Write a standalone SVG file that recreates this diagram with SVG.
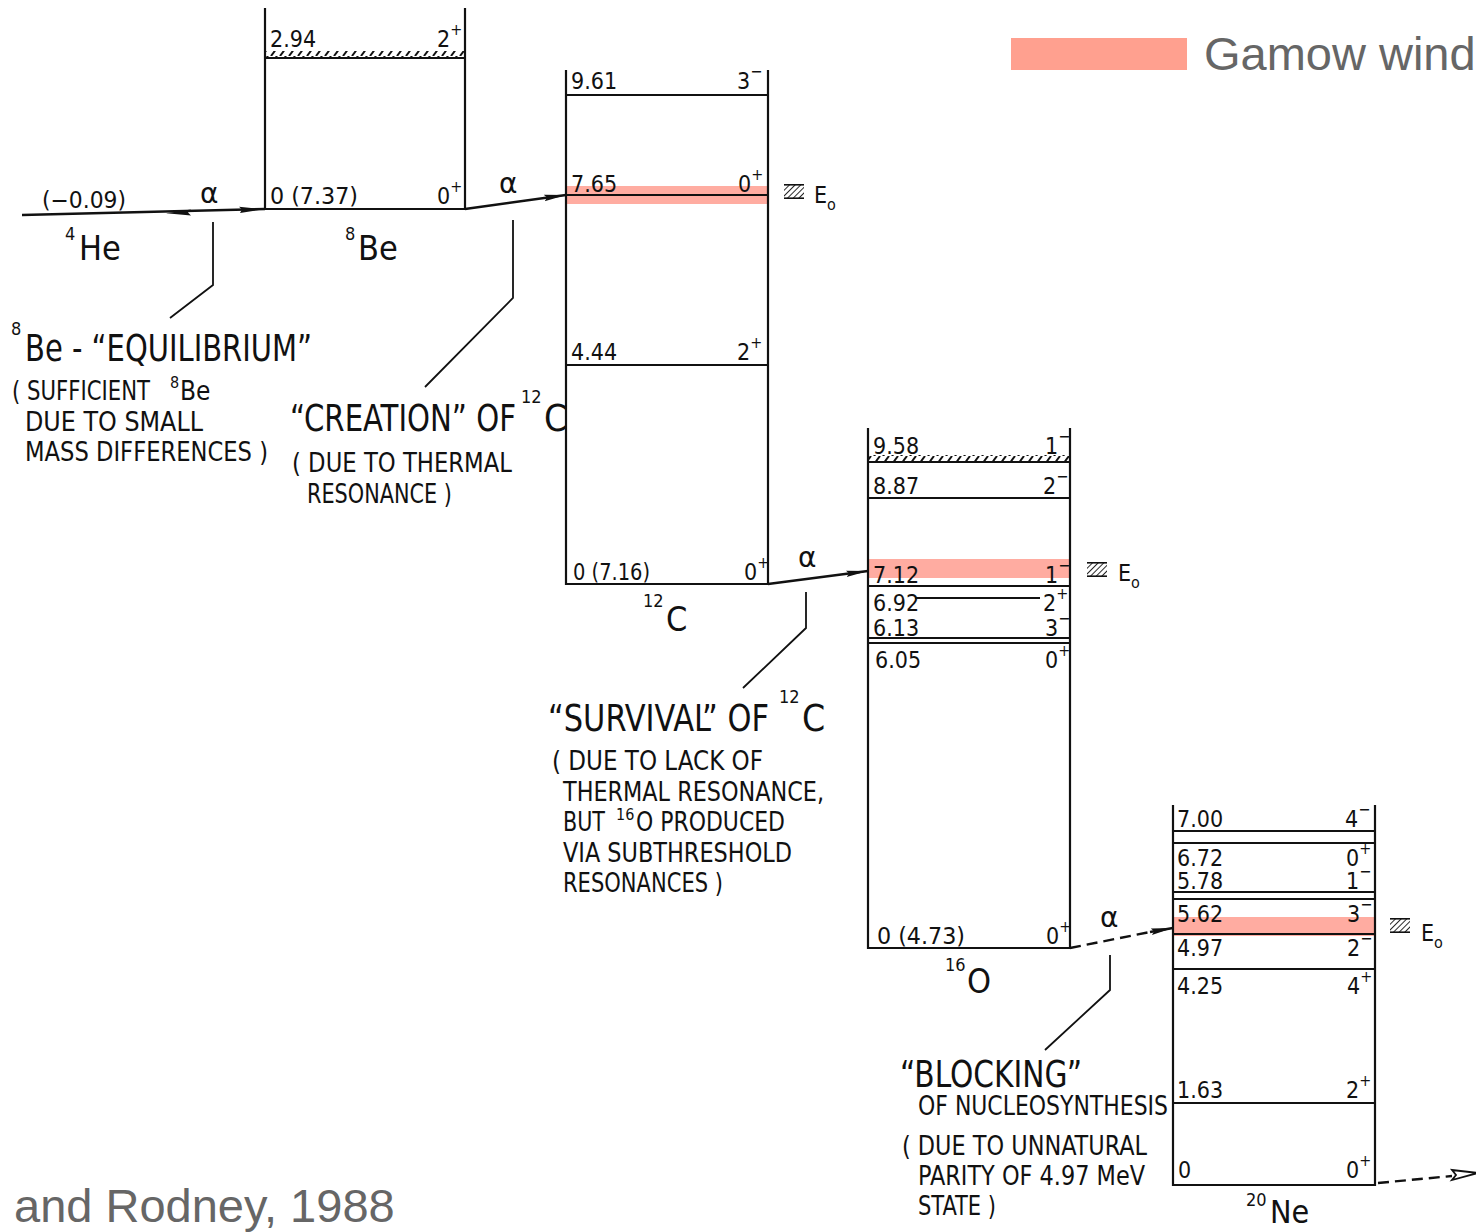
<svg xmlns="http://www.w3.org/2000/svg" width="1476" height="1232" viewBox="0 0 1476 1232">
<style>
.bg{fill:#ffffff}
.lv{stroke:#111;stroke-width:2.2;fill:none}
.t{font-family:"DejaVu Sans Condensed","DejaVu Sans",sans-serif;font-stretch:condensed;fill:#111}
.lab{font-size:23px}
.sup{font-size:16px}
.big{font-size:37px}
.mid{font-size:26px}
.iso{font-size:34px}
.isup{font-size:18px}
.alpha{font-family:"DejaVu Sans",sans-serif;font-size:28px;fill:#111}
.band{fill:#ff7f6e;opacity:0.65}
.gray{font-family:"Liberation Sans",Arial,sans-serif;fill:#666666}
.lead{stroke:#111;stroke-width:1.8;fill:none}
.arr{stroke:#111;stroke-width:2.4;fill:none}
.dash{stroke:#111;stroke-width:2.4;fill:none;stroke-dasharray:11 6}
</style>
<defs>
<marker id="ah" markerUnits="userSpaceOnUse" markerWidth="24" markerHeight="10" refX="22" refY="5" orient="auto">
<path d="M0,1.8 L22,5 L0,8.2 L3,5 z" fill="#111"/>
</marker>
<pattern id="hatch" width="9" height="8" patternUnits="userSpaceOnUse">
<path d="M1,8 L7,0" stroke="#111" stroke-width="2"/>
</pattern>
<pattern id="diag" width="4" height="4" patternUnits="userSpaceOnUse" patternTransform="rotate(45)">
<line x1="0" y1="0" x2="0" y2="4" stroke="#111" stroke-width="1.8"/>
</pattern>
<g id="e0sym">
<rect x="0" y="0" width="20" height="15" fill="url(#diag)"/>
<line x1="0" y1="0.8" x2="20" y2="0.8" stroke="#111" stroke-width="1.6"/>
<line x1="0" y1="14.2" x2="20" y2="14.2" stroke="#111" stroke-width="1.6"/>
</g>
</defs>
<rect class="bg" x="0" y="0" width="1476" height="1232"/>

<!-- legend -->
<g id="legend">
<rect x="1011" y="38" width="176" height="32" fill="#ffa08f"/>
<text class="gray" x="1204" y="70" font-size="47">Gamow wind</text>
</g>
<g id="citation">
<text class="gray" x="14" y="1222" font-size="47">and Rodney, 1988</text>
</g>

<!-- 4He -->
<g id="node-he4">
<text class="t lab" x="42" y="208" textLength="84" lengthAdjust="spacingAndGlyphs">(−0.09)</text>
<text class="t iso" x="65" y="260"><tspan class="isup" dy="-20">4</tspan><tspan x="79" dy="20">He</tspan></text>
</g>

<!-- 8Be -->
<g id="node-be8">
<line class="lv" x1="265" y1="8" x2="265" y2="210"/>
<line class="lv" x1="465" y1="8" x2="465" y2="210"/>
<line class="lv" x1="265" y1="58" x2="465" y2="58"/>
<rect x="265" y="51" width="200" height="7" fill="url(#hatch)"/>
<line class="lv" x1="265" y1="209" x2="465" y2="209"/>
<text class="t lab" x="270" y="47">2.94</text>
<text class="t lab" x="437" y="47">2<tspan class="sup" dy="-12">+</tspan></text>
<text class="t lab" x="270" y="204" textLength="88" lengthAdjust="spacingAndGlyphs">0 (7.37)</text>
<text class="t lab" x="437" y="204">0<tspan class="sup" dy="-12">+</tspan></text>
<text class="t iso" x="345" y="260"><tspan class="isup" dy="-20">8</tspan><tspan x="358" dy="20">Be</tspan></text>
</g>

<!-- 12C -->
<g id="node-c12">
<rect class="band" x="566" y="186" width="202" height="18"/>
<line class="lv" x1="566" y1="70" x2="566" y2="585"/>
<line class="lv" x1="768" y1="70" x2="768" y2="585"/>
<line class="lv" x1="566" y1="95" x2="768" y2="95"/>
<line class="lv" x1="566" y1="195" x2="768" y2="195"/>
<line class="lv" x1="566" y1="365" x2="768" y2="365"/>
<line class="lv" x1="566" y1="584" x2="768" y2="584"/>
<text class="t lab" x="571" y="89">9.61</text>
<text class="t lab" x="737" y="89">3<tspan class="sup" dy="-12">−</tspan></text>
<text class="t lab" x="571" y="192">7.65</text>
<text class="t lab" x="738" y="192">0<tspan class="sup" dy="-12">+</tspan></text>
<text class="t lab" x="571" y="360">4.44</text>
<text class="t lab" x="737" y="360">2<tspan class="sup" dy="-12">+</tspan></text>
<text class="t lab" x="573" y="580" textLength="77" lengthAdjust="spacingAndGlyphs">0 (7.16)</text>
<text class="t lab" x="744" y="580">0<tspan class="sup" dy="-12">+</tspan></text>
<text class="t iso" x="643" y="631"><tspan class="isup" dy="-24">12</tspan><tspan x="666" dy="24">C</tspan></text>
<use href="#e0sym" x="784" y="184"/>
<text class="t lab" x="814" y="203">E<tspan class="sup" dy="7">o</tspan></text>
</g>

<!-- 16O -->
<g id="node-o16">
<rect class="band" x="868" y="559" width="202" height="19"/>
<line class="lv" x1="868" y1="428" x2="868" y2="949"/>
<line class="lv" x1="1070" y1="428" x2="1070" y2="949"/>
<line class="lv" x1="868" y1="462" x2="1070" y2="462"/>
<rect x="868" y="455" width="202" height="7" fill="url(#hatch)"/>
<line class="lv" x1="868" y1="498" x2="1070" y2="498"/>
<line class="lv" x1="868" y1="586" x2="1070" y2="586"/>
<line class="lv" x1="915" y1="598" x2="1040" y2="598"/>
<line class="lv" x1="868" y1="638" x2="1070" y2="638"/>
<line class="lv" x1="868" y1="643" x2="1070" y2="643"/>
<line class="lv" x1="868" y1="948" x2="1070" y2="948"/>
<text class="t lab" x="873" y="454">9.58</text>
<text class="t lab" x="1045" y="454">1<tspan class="sup" dy="-12">−</tspan></text>
<text class="t lab" x="873" y="494">8.87</text>
<text class="t lab" x="1043" y="494">2<tspan class="sup" dy="-12">−</tspan></text>
<text class="t lab" x="873" y="583">7.12</text>
<text class="t lab" x="1045" y="583">1<tspan class="sup" dy="-12">−</tspan></text>
<text class="t lab" x="873" y="611">6.92</text>
<text class="t lab" x="1043" y="611">2<tspan class="sup" dy="-12">+</tspan></text>
<text class="t lab" x="873" y="636">6.13</text>
<text class="t lab" x="1045" y="636">3<tspan class="sup" dy="-12">−</tspan></text>
<text class="t lab" x="875" y="668">6.05</text>
<text class="t lab" x="1045" y="668">0<tspan class="sup" dy="-12">+</tspan></text>
<text class="t lab" x="877" y="944" textLength="88" lengthAdjust="spacingAndGlyphs">0 (4.73)</text>
<text class="t lab" x="1046" y="944">0<tspan class="sup" dy="-12">+</tspan></text>
<text class="t iso" x="945" y="993"><tspan class="isup" dy="-22">16</tspan><tspan x="967" dy="22">O</tspan></text>
<use href="#e0sym" x="1087" y="562"/>
<text class="t lab" x="1118" y="581">E<tspan class="sup" dy="7">o</tspan></text>
</g>

<!-- 20Ne -->
<g id="node-ne20">
<rect class="band" x="1173" y="917" width="202" height="19"/>
<line class="lv" x1="1173" y1="805" x2="1173" y2="1186"/>
<line class="lv" x1="1375" y1="805" x2="1375" y2="1186"/>
<line class="lv" x1="1173" y1="831" x2="1375" y2="831"/>
<line class="lv" x1="1173" y1="843" x2="1375" y2="843"/>
<line class="lv" x1="1173" y1="892" x2="1375" y2="892"/>
<line class="lv" x1="1173" y1="899" x2="1375" y2="899"/>
<line class="lv" x1="1173" y1="934" x2="1375" y2="934"/>
<line class="lv" x1="1173" y1="969" x2="1375" y2="969"/>
<line class="lv" x1="1173" y1="1103" x2="1375" y2="1103"/>
<line class="lv" x1="1173" y1="1185" x2="1375" y2="1185"/>
<text class="t lab" x="1177" y="827">7.00</text>
<text class="t lab" x="1345" y="827">4<tspan class="sup" dy="-12">−</tspan></text>
<text class="t lab" x="1177" y="866">6.72</text>
<text class="t lab" x="1346" y="866">0<tspan class="sup" dy="-12">+</tspan></text>
<text class="t lab" x="1177" y="889">5.78</text>
<text class="t lab" x="1346" y="889">1<tspan class="sup" dy="-12">−</tspan></text>
<text class="t lab" x="1177" y="922">5.62</text>
<text class="t lab" x="1347" y="922">3<tspan class="sup" dy="-12">−</tspan></text>
<text class="t lab" x="1177" y="956">4.97</text>
<text class="t lab" x="1347" y="956">2<tspan class="sup" dy="-12">−</tspan></text>
<text class="t lab" x="1177" y="994">4.25</text>
<text class="t lab" x="1347" y="994">4<tspan class="sup" dy="-12">+</tspan></text>
<text class="t lab" x="1177" y="1098">1.63</text>
<text class="t lab" x="1346" y="1098">2<tspan class="sup" dy="-12">+</tspan></text>
<text class="t lab" x="1178" y="1178">0</text>
<text class="t lab" x="1346" y="1178">0<tspan class="sup" dy="-12">+</tspan></text>
<text class="t" x="1246" y="1223" font-size="32"><tspan class="isup" dy="-17">20</tspan><tspan x="1270" dy="17">Ne</tspan></text>
<use href="#e0sym" x="1390" y="918"/>
<text class="t lab" x="1421" y="941">E<tspan class="sup" dy="7">o</tspan></text>
</g>

<!-- annotations -->
<g id="note-equilibrium">
<text class="t big" x="11" y="361"><tspan class="isup" dy="-26">8</tspan><tspan x="25" dy="26" textLength="287" lengthAdjust="spacingAndGlyphs">Be - “EQUILIBRIUM”</tspan></text>
<text class="t mid" x="12" y="400"><tspan textLength="138" lengthAdjust="spacingAndGlyphs">( SUFFICIENT</tspan><tspan class="sup" x="170" dy="-12">8</tspan><tspan x="180" dy="12">Be</tspan></text>
<text class="t mid" x="25" y="431" textLength="178" lengthAdjust="spacingAndGlyphs">DUE  TO  SMALL</text>
<text class="t mid" x="25" y="461" textLength="243" lengthAdjust="spacingAndGlyphs">MASS  DIFFERENCES )</text>
</g>
<g id="note-creation">
<text class="t big" x="290" y="431"><tspan textLength="226" lengthAdjust="spacingAndGlyphs">“CREATION” OF</tspan><tspan class="isup" x="521" dy="-28">12</tspan><tspan x="544" dy="28">C</tspan></text>
<text class="t mid" x="292" y="472" textLength="220" lengthAdjust="spacingAndGlyphs">( DUE  TO  THERMAL</text>
<text class="t mid" x="307" y="503" textLength="145" lengthAdjust="spacingAndGlyphs">RESONANCE )</text>
</g>
<g id="note-survival">
<text class="t big" x="548" y="731"><tspan textLength="221" lengthAdjust="spacingAndGlyphs">“SURVIVAL” OF</tspan><tspan class="isup" x="779" dy="-28">12</tspan><tspan x="802" dy="28">C</tspan></text>
<text class="t mid" x="552" y="770" textLength="211" lengthAdjust="spacingAndGlyphs">( DUE  TO LACK  OF</text>
<text class="t mid" x="563" y="801" textLength="261" lengthAdjust="spacingAndGlyphs">THERMAL  RESONANCE,</text>
<text class="t mid" x="563" y="831"><tspan textLength="42" lengthAdjust="spacingAndGlyphs">BUT</tspan><tspan class="sup" x="616" dy="-11">16</tspan><tspan x="636" dy="11" textLength="149" lengthAdjust="spacingAndGlyphs">O  PRODUCED</tspan></text>
<text class="t mid" x="563" y="862" textLength="229" lengthAdjust="spacingAndGlyphs">VIA  SUBTHRESHOLD</text>
<text class="t mid" x="563" y="892" textLength="160" lengthAdjust="spacingAndGlyphs">RESONANCES )</text>
</g>
<g id="note-blocking">
<text class="t big" x="900" y="1087" textLength="182" lengthAdjust="spacingAndGlyphs">“BLOCKING”</text>
<text class="t mid" x="918" y="1115" textLength="250" lengthAdjust="spacingAndGlyphs">OF  NUCLEOSYNTHESIS</text>
<text class="t mid" x="902" y="1155" textLength="245" lengthAdjust="spacingAndGlyphs">( DUE  TO  UNNATURAL</text>
<text class="t mid" x="918" y="1185" textLength="227" lengthAdjust="spacingAndGlyphs">PARITY  OF  4.97 MeV</text>
<text class="t mid" x="918" y="1215" textLength="78" lengthAdjust="spacingAndGlyphs">STATE )</text>
</g>

<!-- connectors -->
<g id="connectors">
<path class="arr" d="M22,215 L265,209"/>
<path d="M166,213.2 L191,209.6 L188,212.4 L191,215.6 z" fill="#111"/>
<path d="M264,209.2 L239,206.8 L242,209.6 L240,213 z" fill="#111"/>
<text class="alpha" x="200" y="203">α</text>
<path class="arr" d="M465,209 L566,195" marker-end="url(#ah)"/>
<text class="alpha" x="499" y="193">α</text>
<path class="arr" d="M768,584 L868,571" marker-end="url(#ah)"/>
<text class="alpha" x="798" y="567">α</text>
<path class="dash" d="M1070,948 L1150,932"/>
<path class="arr" d="M1150,932 L1173,928" marker-end="url(#ah)"/>
<text class="alpha" x="1100" y="927">α</text>
<path class="dash" d="M1378,1183 L1452,1176"/>
<path d="M1452,1170 L1478,1173 L1452,1180 L1456,1175 z" fill="none" stroke="#111" stroke-width="1.8"/>
<path class="lead" d="M213,222 L213,285 L170,318"/>
<path class="lead" d="M513,220 L513,298 L425,387"/>
<path class="lead" d="M806,592 L806,628 L743,688"/>
<path class="lead" d="M1110,955 L1110,990 L1045,1050"/>
</g>
</svg>
